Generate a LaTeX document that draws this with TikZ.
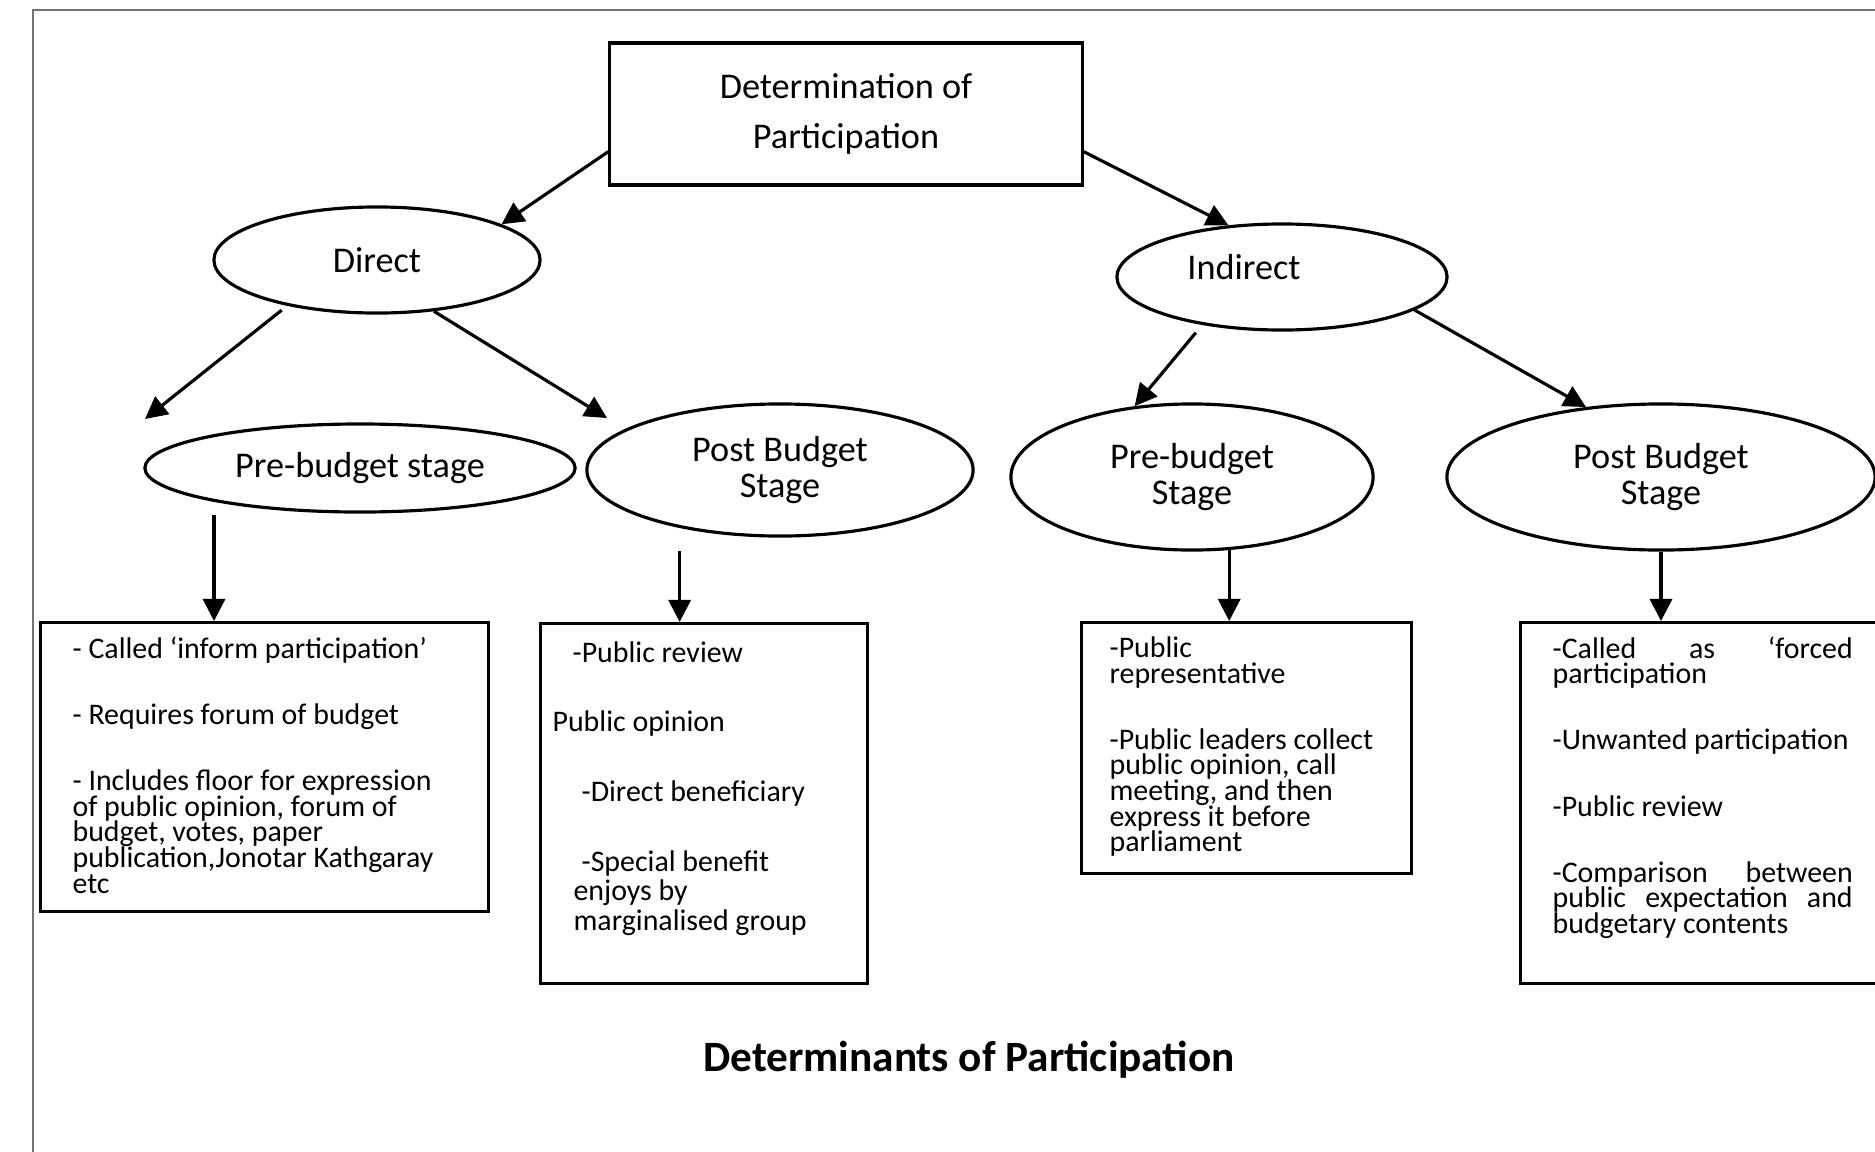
\documentclass[tikz,border=0pt]{standalone}
\usepackage{fontspec}
\setmainfont{Carlito}
\usetikzlibrary{shapes.geometric,arrows.meta}
\newcommand{\ovalsize}{\fontsize{10.3}{10.2}\selectfont}
\newcommand{\headsize}{\fontsize{10.3}{14.3}\selectfont}
\newcommand{\notesize}{\fontsize{8.5}{7.3}\selectfont\lineskiplimit=-10pt}
\newcommand{\notetext}[3]{\parbox[c][#2][t]{#1}{\notesize\hyphenpenalty=10000 #3}}
\begin{document}
\begin{tikzpicture}[x=0.01cm, y=-0.01cm,
    oval/.style={ellipse, draw, line width=0.9pt, inner sep=0pt, align=center, font=\ovalsize},
    notebox/.style={draw, line width=0.9pt, anchor=north west, inner xsep=0.32cm, inner ysep=0.14cm},
    link/.style={-{Triangle[length=6.3pt, width=6.3pt]}, line width=0.9pt}]
    \useasboundingbox (0,0) rectangle (1875,1151);
    \draw[black!55, line width=0.6pt] (33,1200) |- (1900,10);

    \node[draw, line width=0.9pt, minimum width=4.72cm, minimum height=1.42cm, align=center, font=\headsize]
        (detbox) at (846,114) {Determination of\\Participation};
    \node[oval, minimum width=3.26cm, minimum height=1.06cm] (direct) at (377,260) {Direct};
    % label sits left of and above the middle
    \node[oval, minimum width=3.30cm, minimum height=1.06cm] (indirect) at (1282,277)
        {\raisebox{0.2cm}{Indirect}\hspace*{0.76cm}};
    \node[oval, minimum width=4.30cm, minimum height=0.88cm] (dpre) at (360,468) {Pre-budget stage};
    \node[oval, minimum width=3.86cm, minimum height=1.32cm] (dpost) at (780,470) {Post Budget\\Stage};
    \node[oval, minimum width=3.62cm, minimum height=1.46cm] (ipre) at (1192,477) {Pre-budget\\Stage};
    \node[oval, minimum width=4.28cm, minimum height=1.46cm] (ipost) at (1661,477) {Post Budget\\Stage};

    % boxes under the stages
    \node[notebox] (dprenotes) at (39,621) {\notetext{3.84cm}{2.61cm}{%
        - Called `inform participation'\\[11.5pt]
        - Requires forum of budget\\[11.5pt]
        - Includes floor for expression\\
        of public opinion, forum of\\
        budget, votes, paper\\
        publication,Jonotar Kathgaray\\
        etc}};
    \node[notebox] (dpostnotes) at (539,622) {\notetext{2.63cm}{3.32cm}{%
        \fontsize{8.5}{8.4}\selectfont
        \rule{0pt}{7pt}-Public review\\[11.4pt]
        \hspace*{-0.2cm}Public opinion\\[11.4pt]
        \hspace*{0.09cm}-Direct beneficiary\\[11.4pt]
        \hspace*{0.09cm}-Special benefit\\
        \hspace*{0.01cm}enjoys by\\
        \hspace*{0.01cm}marginalised group}};
    \node[notebox, inner xsep=0.28cm] (iprenotes) at (1080,621) {\notetext{2.74cm}{2.23cm}{%
        -Public\\
        representative\\[11.5pt]
        \mbox{-Public leaders collect}\\
        public opinion, call\\
        meeting, and then\\
        express it before\\
        parliament}};
    \node[notebox] (ipostnotes) at (1519,621) {\notetext{3.00cm}{3.33cm}{%
        -Called as `forced\linebreak participation\\[11.5pt]
        \mbox{-Unwanted participation}\\[11.5pt]
        -Public review\\[11.5pt]
        -Comparison between\linebreak public expectation and\linebreak budgetary contents}};

    \node[font=\bfseries\fontsize{12.3}{14}\selectfont] (caption) at (969,1060) {Determinants of Participation};

    % arrows between levels
    \coordinate (dprearr) at (145,419);
    \coordinate (dpostarr) at (607,418);
    \draw[link] (detbox.189) -- (direct.16);
    \draw[link] (detbox.351) -- (indirect.136);
    \draw[link, shorten <=0.07cm] (direct.207) -- (dprearr);
    \draw[link] (direct.318) -- (dpostarr);
    \draw[link, shorten <=0.1cm] (indirect.211) -- (ipre.129);
    \draw[link] (indirect.346) -- (ipost.137);

    % arrows into the boxes
    \foreach \s/\b/\g in {dpre.193/dprenotes/0.13cm, dpost.210/dpostnotes/0.23cm,
        ipre.297/iprenotes/0pt, ipost.south/ipostnotes/0pt} {
        \draw[link] ([yshift=-\g]\s) -- (\s |- \b.north);
      }
  \end{tikzpicture}
\end{document}
